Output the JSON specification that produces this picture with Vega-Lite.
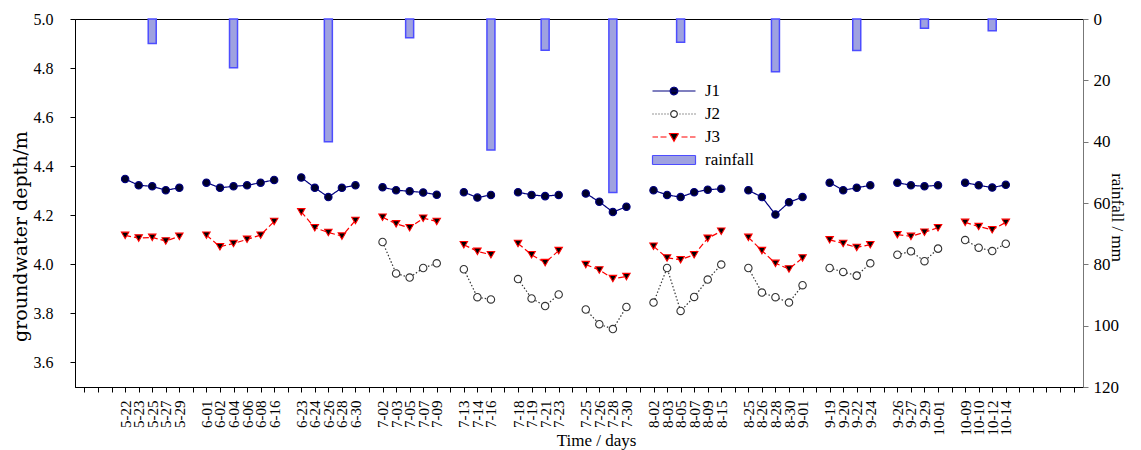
{
  "$schema": "https://vega.github.io/schema/vega-lite/v6.json",
  "width": 1008,
  "height": 368,
  "autosize": {"type": "none"},
  "padding": {"left": 75, "top": 19, "right": 58, "bottom": 63},
  "config": {
    "font": "Liberation Serif",
    "view": {"stroke": "black", "strokeWidth": 1}
  },
  "data": {"values": [
    {"d":"5-22","g":1,"J1":4.348,"J3":4.118},
    {"d":"5-23","g":1,"J1":4.322,"J3":4.107},
    {"d":"5-25","g":1,"J1":4.318,"J3":4.110,"rain":8.0},
    {"d":"5-27","g":1,"J1":4.302,"J3":4.095},
    {"d":"5-29","g":1,"J1":4.312,"J3":4.114},
    {"d":"6-01","g":2,"J1":4.333,"J3":4.119},
    {"d":"6-02","g":2,"J1":4.312,"J3":4.072},
    {"d":"6-04","g":2,"J1":4.318,"J3":4.085,"rain":15.9},
    {"d":"6-06","g":2,"J1":4.322,"J3":4.102},
    {"d":"6-08","g":2,"J1":4.333,"J3":4.119},
    {"d":"6-16","g":2,"J1":4.344,"J3":4.175},
    {"d":"6-23","g":3,"J1":4.354,"J3":4.214},
    {"d":"6-24","g":3,"J1":4.312,"J3":4.149},
    {"d":"6-26","g":3,"J1":4.274,"J3":4.130,"rain":40.0},
    {"d":"6-28","g":3,"J1":4.312,"J3":4.115},
    {"d":"6-30","g":3,"J1":4.322,"J3":4.179},
    {"d":"7-02","g":4,"J1":4.314,"J2":4.091,"J3":4.192},
    {"d":"7-03","g":4,"J1":4.302,"J2":3.963,"J3":4.165},
    {"d":"7-05","g":4,"J1":4.298,"J2":3.946,"J3":4.149,"rain":6.1},
    {"d":"7-07","g":4,"J1":4.293,"J2":3.985,"J3":4.188},
    {"d":"7-09","g":4,"J1":4.284,"J2":4.004,"J3":4.175},
    {"d":"7-13","g":5,"J1":4.294,"J2":3.980,"J3":4.080},
    {"d":"7-14","g":5,"J1":4.272,"J2":3.866,"J3":4.053},
    {"d":"7-16","g":5,"J1":4.283,"J2":3.857,"J3":4.039,"rain":42.7},
    {"d":"7-18","g":6,"J1":4.294,"J2":3.940,"J3":4.085},
    {"d":"7-19","g":6,"J1":4.283,"J2":3.861,"J3":4.039},
    {"d":"7-21","g":6,"J1":4.278,"J2":3.830,"J3":4.007,"rain":10.2},
    {"d":"7-23","g":6,"J1":4.283,"J2":3.877,"J3":4.056},
    {"d":"7-25","g":7,"J1":4.289,"J2":3.816,"J3":3.999},
    {"d":"7-26","g":7,"J1":4.255,"J2":3.756,"J3":3.977},
    {"d":"7-28","g":7,"J1":4.213,"J2":3.736,"J3":3.942,"rain":56.6},
    {"d":"7-30","g":7,"J1":4.235,"J2":3.826,"J3":3.950},
    {"d":"8-02","g":8,"J1":4.302,"J2":3.844,"J3":4.074},
    {"d":"8-03","g":8,"J1":4.283,"J2":3.985,"J3":4.026},
    {"d":"8-05","g":8,"J1":4.274,"J2":3.810,"J3":4.019,"rain":7.6},
    {"d":"8-07","g":8,"J1":4.294,"J2":3.867,"J3":4.039},
    {"d":"8-09","g":8,"J1":4.304,"J2":3.938,"J3":4.106},
    {"d":"8-15","g":8,"J1":4.308,"J2":3.999,"J3":4.135},
    {"d":"8-25","g":9,"J1":4.302,"J2":3.985,"J3":4.110},
    {"d":"8-26","g":9,"J1":4.274,"J2":3.885,"J3":4.056},
    {"d":"8-28","g":9,"J1":4.203,"J2":3.866,"J3":4.004,"rain":17.2},
    {"d":"8-30","g":9,"J1":4.253,"J2":3.844,"J3":3.981},
    {"d":"9-01","g":9,"J1":4.274,"J2":3.915,"J3":4.026},
    {"d":"9-19","g":10,"J1":4.333,"J2":3.985,"J3":4.100},
    {"d":"9-20","g":10,"J1":4.302,"J2":3.969,"J3":4.085},
    {"d":"9-22","g":10,"J1":4.312,"J2":3.954,"J3":4.069,"rain":10.3},
    {"d":"9-24","g":10,"J1":4.322,"J2":4.004,"J3":4.080},
    {"d":"9-26","g":11,"J1":4.333,"J2":4.039,"J3":4.121},
    {"d":"9-27","g":11,"J1":4.322,"J2":4.053,"J3":4.114},
    {"d":"9-29","g":11,"J1":4.318,"J2":4.013,"J3":4.131,"rain":3.0},
    {"d":"10-01","g":11,"J1":4.322,"J2":4.064,"J3":4.149},
    {"d":"10-09","g":12,"J1":4.333,"J2":4.099,"J3":4.171},
    {"d":"10-10","g":12,"J1":4.322,"J2":4.068,"J3":4.154},
    {"d":"10-12","g":12,"J1":4.313,"J2":4.054,"J3":4.141,"rain":3.8},
    {"d":"10-14","g":12,"J1":4.324,"J2":4.084,"J3":4.171}
  ]},
  "encoding": {
    "x": {
      "field": "d",
      "type": "ordinal",
      "sort": null,
      "title": "Time / days",
      "scale": {
        "type": "point",
        "padding": 0.7,
        "domain": ["_l1","_l2","_l3",
          "5-22","5-23","5-25","5-27","5-29","_g1",
          "6-01","6-02","6-04","6-06","6-08","6-16","_g2",
          "6-23","6-24","6-26","6-28","6-30","_g3",
          "7-02","7-03","7-05","7-07","7-09","_g4",
          "7-13","7-14","7-16","_g5",
          "7-18","7-19","7-21","7-23","_g6",
          "7-25","7-26","7-28","7-30","_g7",
          "8-02","8-03","8-05","8-07","8-09","8-15","_g8",
          "8-25","8-26","8-28","8-30","9-01","_g9",
          "9-19","9-20","9-22","9-24","_g10",
          "9-26","9-27","9-29","10-01","_g11",
          "10-09","10-10","10-12","10-14",
          "_r1","_r2","_r3","_r4","_r5"]
      },
      "axis": {
        "orient": "bottom",
        "labelExpr": "indexof(datum.value, '_') === 0 ? '' : datum.value",
        "labelAngle": -90,
        "labelAlign": "right",
        "labelBaseline": "middle",
        "labelPadding": 8,
        "labelOverlap": false,
        "labelFont": "Liberation Serif",
        "labelFontSize": 15,
        "labelColor": "black",
        "tickSize": 5,
        "tickColor": "black",
        "domainColor": "black",
        "grid": false,
        "titleFont": "Liberation Serif",
        "titleFontSize": 17,
        "titleFontWeight": "normal",
        "titleColor": "black",
        "titleX": 521,
        "titleY": 58,
        "titleAlign": "center",
        "titleBaseline": "alphabetic"
      }
    }
  },
  "layer": [
    {
      "transform": [{"filter": "isValid(datum.rain)"}],
      "mark": {"type": "bar", "width": 8, "strokeWidth": 1.5},
      "encoding": {
        "y": {
          "field": "rain",
          "type": "quantitative",
          "title": "rainfall / mm",
          "scale": {"domain": [0, 120], "reverse": true, "nice": false, "zero": true},
          "axis": {
            "orient": "right",
            "values": [0, 20, 40, 60, 80, 100, 120],
            "grid": false,
            "labelFont": "Liberation Serif",
            "labelFontSize": 17,
            "labelColor": "black",
            "labelPadding": 5,
            "tickSize": 5,
            "tickColor": "#777777",
            "domainColor": "#777777",
            "titleFont": "Liberation Serif",
            "titleFontSize": 17,
            "titleFontWeight": "normal",
            "titleColor": "black",
            "titleAngle": 90,
            "titleX": 33,
            "titleY": 198,
            "titleAlign": "center",
            "titleBaseline": "middle"
          }
        },
        "fill": {"datum": "rainfall"},
        "stroke": {"datum": "rainfall"}
      }
    },
    {
      "transform": [
        {"fold": ["J1", "J2", "J3"], "as": ["series", "depth"]},
        {"filter": "isValid(datum.depth)"}
      ],
      "encoding": {
        "y": {
          "field": "depth",
          "type": "quantitative",
          "title": "groundwater depth/m",
          "scale": {"domain": [3.5, 5.0], "nice": false, "zero": false},
          "axis": {
            "orient": "left",
            "values": [3.6, 3.8, 4.0, 4.2, 4.4, 4.6, 4.8, 5.0],
            "format": ".1f",
            "grid": false,
            "labelFont": "Liberation Serif",
            "labelFontSize": 16,
            "labelColor": "black",
            "labelPadding": 17,
            "tickSize": 5,
            "tickColor": "black",
            "domainColor": "black",
            "titleFont": "DejaVu Serif",
            "titleFontSize": 19,
            "titleFontWeight": "normal",
            "titleColor": "black",
            "titleAngle": -90,
            "titleX": -55,
            "titleY": 217,
            "titleAlign": "center",
            "titleBaseline": "middle"
          }
        }
      },
      "layer": [
        {
          "mark": {"type": "line", "strokeWidth": 1.2},
          "encoding": {
            "detail": {"field": "g", "type": "nominal"},
            "stroke": {
              "field": "series",
              "type": "nominal",
              "scale": {
                "domain": ["J1", "J2", "J3", "rainfall"],
                "range": ["#000080", "#333333", "#ff0000", "#4d4dff"]
              },
              "legend": {
                "orient": "none",
                "legendX": 588,
                "legendY": 61,
                "title": null,
                "symbolSize": 400,
                "symbolStrokeWidth": 1.2,
                "labelFont": "Liberation Serif",
                "labelFontSize": 17,
                "labelColor": "black",
                "labelOffset": 20,
                "rowPadding": 4,
                "encode": {
                  "symbols": {
                    "update": {
                      "shape": {"signal": "datum.value==='J1' ? 'M-2.15,0H2.15M0.38,0A0.38,0.38,0,1,1,-0.38,0A0.38,0.38,0,1,1,0.38,0Z' : datum.value==='J2' ? 'M-2.15,0H-2.05M-1.85,0H-1.75M-1.55,0H-1.45M-1.25,0H-1.15M-0.95,0H-0.85M-0.65,0H-0.55M0.55,0H0.65M0.85,0H0.95M1.15,0H1.25M1.45,0H1.55M1.75,0H1.85M2.05,0H2.15M0.33,0A0.33,0.33,0,1,1,-0.33,0A0.33,0.33,0,1,1,0.33,0Z' : datum.value==='J3' ? 'M-2.15,0H-1.6M-1.35,0H-0.75M0.75,0H1.35M1.6,0H2.15M-0.45,-0.35L0.45,-0.35L0,0.42Z' : 'M-2.15,-0.45H2.15V0.45H-2.15Z'"},
                      "strokeDash": {"value": [1, 0]},
                      "strokeWidth": {"value": 1.2},
                      "opacity": {"value": 1},
                      "fillOpacity": {"value": 1}
                    }
                  }
                }
              }
            },
            "strokeDash": {
              "field": "series",
              "type": "nominal",
              "scale": {"domain": ["J1", "J2", "J3"], "range": [[1, 0], [1.5, 2], [6, 3]]},
              "legend": null
            }
          }
        },
        {
          "mark": {"type": "point", "size": 55, "strokeWidth": 1.1, "opacity": 1, "fillOpacity": 1},
          "encoding": {
            "shape": {
              "field": "series",
              "type": "nominal",
              "scale": {"domain": ["J1", "J2", "J3"], "range": ["circle", "circle", "triangle-down"]},
              "legend": null
            },
            "stroke": {"field": "series", "type": "nominal"},
            "fill": {
              "field": "series",
              "type": "nominal",
              "scale": {
                "domain": ["J1", "J2", "J3", "rainfall"],
                "range": ["#00002a", "white", "black", "#9fa2e0"]
              },
              "legend": {
                "orient": "none",
                "legendX": 588,
                "legendY": 61,
                "title": null,
                "symbolSize": 400,
                "symbolStrokeWidth": 1.2,
                "labelFont": "Liberation Serif",
                "labelFontSize": 17,
                "labelColor": "black",
                "labelOffset": 20,
                "rowPadding": 4,
                "encode": {
                  "symbols": {
                    "update": {
                      "shape": {"signal": "datum.value==='J1' ? 'M-2.15,0H2.15M0.38,0A0.38,0.38,0,1,1,-0.38,0A0.38,0.38,0,1,1,0.38,0Z' : datum.value==='J2' ? 'M-2.15,0H-2.05M-1.85,0H-1.75M-1.55,0H-1.45M-1.25,0H-1.15M-0.95,0H-0.85M-0.65,0H-0.55M0.55,0H0.65M0.85,0H0.95M1.15,0H1.25M1.45,0H1.55M1.75,0H1.85M2.05,0H2.15M0.33,0A0.33,0.33,0,1,1,-0.33,0A0.33,0.33,0,1,1,0.33,0Z' : datum.value==='J3' ? 'M-2.15,0H-1.6M-1.35,0H-0.75M0.75,0H1.35M1.6,0H2.15M-0.45,-0.35L0.45,-0.35L0,0.42Z' : 'M-2.15,-0.45H2.15V0.45H-2.15Z'"},
                      "strokeDash": {"value": [1, 0]},
                      "strokeWidth": {"value": 1.2},
                      "opacity": {"value": 1},
                      "fillOpacity": {"value": 1}
                    }
                  }
                }
              }
            }
          }
        }
      ]
    }
  ],
  "resolve": {"scale": {"y": "independent"}}
}
